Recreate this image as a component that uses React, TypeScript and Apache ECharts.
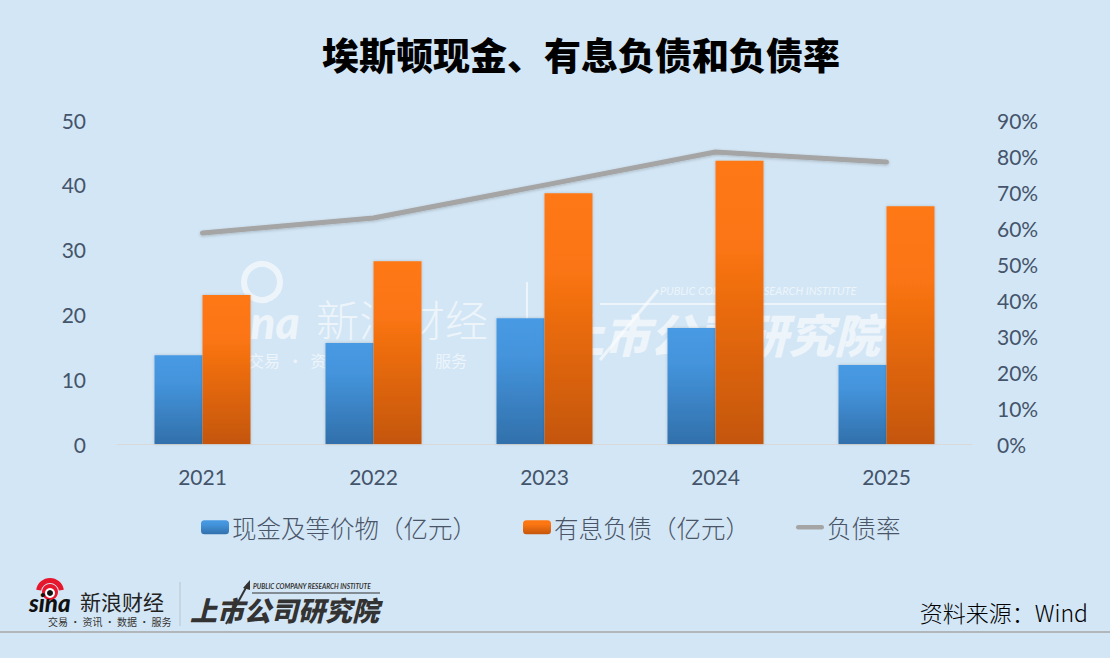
import React, { useEffect, useRef } from "react";
import * as echarts from "echarts";

const years = ["2021", "2022", "2023", "2024", "2025"];
const cashValues = [13.7, 15.6, 19.4, 17.9, 12.2];
const debtValues = [23.0, 28.2, 38.7, 43.7, 36.7];
const ratioValues = [58.6, 62.8, 71.9, 81.1, 78.3];
const leftTicks = { min: 0, max: 50, interval: 10 };
const rightTicks = { min: 0, max: 90, interval: 10 };
const seriesNames = ["现金及等价物（亿元）", "有息负债（亿元）", "负债率"];

const CJK = '"Noto Sans CJK SC", "Noto Sans", sans-serif';
const NUM = 'Lato, "Open Sans", "Noto Sans", sans-serif';
const AXIS_COLOR = "#44546a";

export default function App() {
  const ref = useRef<HTMLDivElement>(null);

  useEffect(() => {
    document.body.style.margin = "0";
    if (!ref.current) return;
    const chart = echarts.init(ref.current, null, { renderer: "svg" });
    const wm = "rgba(255,255,255,0.6)";
    const option: any = {
      animation: false,
      backgroundColor: "#d3e6f5",
      title: {
        text: "埃斯顿现金、有息负债和负债率",
        left: 576,
        top: 30,
        textAlign: "center",
        textStyle: {
          fontFamily: CJK,
          fontSize: 37,
          fontWeight: 900,
          color: "#000000",
        },
      },
      grid: { left: 117, right: 138, top: 120, bottom: 214, containLabel: false },
      legend: {
        left: 201,
        top: 515,
        padding: 0,
        itemWidth: 28,
        itemHeight: 14,
        itemGap: 46,
        data: [
          { name: seriesNames[0] },
          { name: seriesNames[1] },
          { name: seriesNames[2], icon: "path://M2,0h24a2,2 0 0 1 0,4.6h-24a2,2 0 0 1 0,-4.6z" },
        ],
        textStyle: {
          fontFamily: CJK,
          fontSize: 24.5,
          fontWeight: 300,
          color: "#4a5568",
          padding: [0, 0, 0, -2],
        },
      },
      xAxis: {
        type: "category",
        data: years,
        axisLine: { show: true, lineStyle: { color: "#d9d9d9", width: 1 } },
        axisTick: { show: false },
        axisLabel: {
          margin: 22,
          fontFamily: NUM,
          fontSize: 21,
          color: AXIS_COLOR,
        },
        splitLine: { show: false },
      },
      yAxis: [
        {
          type: "value",
          min: leftTicks.min,
          max: leftTicks.max,
          interval: leftTicks.interval,
          axisLine: { show: false },
          axisTick: { show: false },
          splitLine: { show: false },
          axisLabel: {
            margin: 31,
            fontFamily: NUM,
            fontSize: 21,
            color: AXIS_COLOR,
          },
        },
        {
          type: "value",
          min: rightTicks.min,
          max: rightTicks.max,
          interval: rightTicks.interval,
          position: "right",
          axisLine: { show: false },
          axisTick: { show: false },
          splitLine: { show: false },
          axisLabel: {
            margin: 25,
            fontFamily: NUM,
            fontSize: 21,
            color: AXIS_COLOR,
            formatter: (v: number) => `${Math.round(v)}%`,
          },
        },
      ],
      series: [
        {
          name: seriesNames[0],
          type: "bar",
          data: cashValues,
          barWidth: 48,
          barGap: "0%",
          itemStyle: {
            color: new echarts.graphic.LinearGradient(0, 0, 0, 1, [
              { offset: 0, color: "#479ae3" },
              { offset: 0.3, color: "#4494dc" },
              { offset: 1, color: "#3170ab" },
            ]),
            shadowColor: "rgba(0,0,0,0.18)",
            shadowBlur: 3,
          },
          z: 3,
        },
        {
          name: seriesNames[1],
          type: "bar",
          data: debtValues,
          barWidth: 48,
          barGap: "0%",
          itemStyle: {
            color: new echarts.graphic.LinearGradient(0, 0, 0, 1, [
              { offset: 0, color: "#ff7812" },
              { offset: 0.3, color: "#fb7512" },
              { offset: 1, color: "#c4560c" },
            ]),
            shadowColor: "rgba(0,0,0,0.18)",
            shadowBlur: 3,
          },
          z: 3,
        },
        {
          name: seriesNames[2],
          type: "line",
          yAxisIndex: 1,
          data: ratioValues,
          symbol: "none",
          smooth: false,
          lineStyle: {
            color: "#a5a5a5",
            width: 5,
            cap: "round",
            join: "round",
            shadowColor: "rgba(0,0,0,0.2)",
            shadowBlur: 3,
            shadowOffsetY: 1,
          },
          itemStyle: { color: "#a5a5a5" },
          z: 4,
        },
      ],
      graphic: [
        // center watermark
        {
          type: "group",
          z: 0,
          silent: true,
          children: [
            { type: "circle", shape: { cx: 262, cy: 282, r: 18 }, style: { fill: "none", stroke: wm, lineWidth: 6 } },
            { type: "text", x: 220, y: 298, style: { text: "sina", fontFamily: NUM, fontSize: 46, fontWeight: 900, fontStyle: "italic", fill: wm } },
            { type: "text", x: 316, y: 296, style: { text: "新浪财经", fontFamily: CJK, fontSize: 43, fontWeight: 300, fill: wm } },
            { type: "text", x: 248, y: 352, style: { text: "交易  ·  资讯  ·  数据  ·  服务", fontFamily: CJK, fontSize: 16, fill: wm } },
            { type: "line", shape: { x1: 527, y1: 282, x2: 527, y2: 355 }, style: { stroke: wm, lineWidth: 2 } },
            { type: "text", x: 660, y: 285, style: { text: "PUBLIC COMPANY RESEARCH INSTITUTE", fontFamily: NUM, fontSize: 11, fontStyle: "italic", fill: wm } },
            { type: "line", shape: { x1: 600, y1: 304, x2: 890, y2: 304 }, style: { stroke: wm, lineWidth: 2 } },
            { type: "line", shape: { x1: 600, y1: 360, x2: 658, y2: 290 }, style: { stroke: wm, lineWidth: 3 } },
            { type: "text", x: 558, y: 310, style: { text: "上市公司研究院", fontFamily: CJK, fontSize: 46, fontWeight: 900, fontStyle: "italic", fill: wm } },
          ],
        },
        // bottom-left logo
        {
          type: "group",
          z: 10,
          silent: true,
          children: [
            { type: "sector", shape: { cx: 50, cy: 592, r0: 9, r: 14, startAngle: Math.PI * 1.05, endAngle: Math.PI * 1.95 }, style: { fill: "#e6162d" } },
            { type: "circle", shape: { cx: 50, cy: 592, r: 8 }, style: { fill: "#e6162d" } },
            { type: "circle", shape: { cx: 50, cy: 593, r: 5 }, style: { fill: "#ffffff" } },
            { type: "circle", shape: { cx: 50, cy: 593, r: 3 }, style: { fill: "#111111" } },
            { type: "text", x: 29, y: 590, style: { text: "sina", fontFamily: NUM, fontSize: 24, fontWeight: 900, fontStyle: "italic", fill: "#111111" } },
            { type: "text", x: 80, y: 590, style: { text: "新浪财经", fontFamily: CJK, fontSize: 21, fill: "#222222" } },
            { type: "text", x: 48, y: 616, style: { text: "交易 · 资讯 · 数据 · 服务", fontFamily: CJK, fontSize: 10, fill: "#333333" } },
            { type: "line", shape: { x1: 180, y1: 582, x2: 180, y2: 626 }, style: { stroke: "#b8c4cf", lineWidth: 1 } },
            { type: "text", x: 253, y: 583, style: { text: "PUBLIC COMPANY RESEARCH INSTITUTE", fontFamily: NUM, fontSize: 6.5, fontWeight: 700, fontStyle: "italic", fill: "#333333" } },
            { type: "line", shape: { x1: 252, y1: 593, x2: 380, y2: 593 }, style: { stroke: "#333333", lineWidth: 1 } },
            { type: "line", shape: { x1: 226, y1: 624, x2: 248, y2: 584 }, style: { stroke: "#333333", lineWidth: 2 } },
            { type: "polygon", shape: { points: [[250, 580], [243, 588], [250, 590]] }, style: { fill: "#333333" } },
            { type: "text", x: 190, y: 596, style: { text: "上市公司研究院", fontFamily: CJK, fontSize: 27, fontWeight: 900, fontStyle: "italic", fill: "#333333" } },
          ],
        },
        {
          type: "text",
          z: 10,
          x: 1088,
          y: 612,
          style: {
            text: "资料来源：Wind",
            fontFamily: CJK,
            fontSize: 23,
            fontWeight: 300,
            fill: "#000000",
            textAlign: "right",
            textVerticalAlign: "middle",
          },
        },
        {
          type: "line",
          z: 10,
          shape: { x1: 0, y1: 632, x2: 1110, y2: 632 },
          style: { stroke: "#a6a6a6", lineWidth: 1.5 },
        },
      ],
    };
    chart.setOption(option);
    return () => chart.dispose();
  }, []);

  return (
    <div
      ref={ref}
      style={{ position: "fixed", left: 0, top: 0, width: 1110, height: 658 }}
    />
  );
}
